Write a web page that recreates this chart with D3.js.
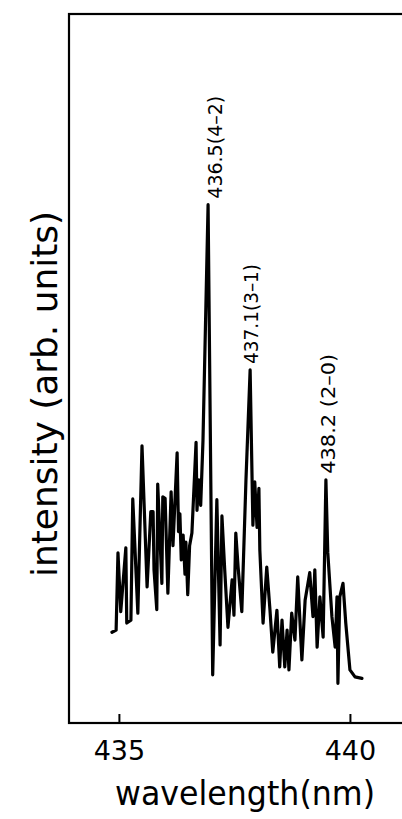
<!DOCTYPE html>
<html>
<head>
<meta charset="utf-8">
<script src="https://cdn.jsdelivr.net/npm/d3@7"></script>
<style>
  body { margin: 0; background: #fff; }
  svg { display: block; font-family: "DejaVu Sans", sans-serif; }
</style>
</head>
<body>
<svg id="chart"></svg>
<script>
// spectrum: wavelength (nm) and intensity (arb. units, 0-100)
var wavelength = [434.85, 434.94, 434.98, 435.04, 435.15, 435.17, 435.26, 435.30, 435.41, 435.50,
  435.61, 435.69, 435.74, 435.76, 435.82, 435.84, 435.93, 435.95, 436.00, 436.06,
  436.13, 436.17, 436.26, 436.29, 436.32, 436.35, 436.39, 436.43, 436.45, 436.49, 436.53, 436.58,
  436.67, 436.69, 436.73, 436.77, 436.82, 436.93, 437.03, 437.12, 437.19, 437.23,
  437.29, 437.36, 437.45, 437.49, 437.53, 437.58, 437.66, 437.75, 437.84, 437.90,
  437.94, 437.99, 438.03, 438.05, 438.12, 438.20, 438.27, 438.33, 438.42, 438.48,
  438.53, 438.59, 438.64, 438.68, 438.74, 438.81, 438.87, 438.96, 439.03, 439.13,
  439.20, 439.24, 439.29, 439.35, 439.42, 439.48, 439.52, 439.61, 439.68, 439.72,
  439.74, 439.78, 439.85, 439.91, 440.00, 440.11, 440.26];
var intensity = [12.8, 13.1, 24.0, 15.7, 24.7, 14.1, 14.5, 31.6, 15.5, 39.1,
  19.2, 29.8, 29.8, 21.6, 16.0, 33.7, 19.7, 31.9, 31.7, 18.3,
  32.6, 25.0, 38.1, 27.0, 29.5, 23.0, 26.5, 21.0, 25.5, 18.1, 25.0, 26.8,
  39.6, 30.0, 34.3, 30.7, 39.9, 73.1, 6.8, 31.5, 11.0, 29.2,
  21.6, 13.5, 20.2, 15.2, 26.8, 22.0, 15.7, 34.3, 49.8, 27.9,
  34.0, 27.6, 33.1, 24.4, 14.1, 22.0, 15.9, 10.0, 15.9, 7.9,
  14.5, 7.9, 13.1, 7.5, 15.5, 11.7, 20.6, 8.9, 17.3, 21.2,
  15.0, 21.6, 10.7, 17.8, 12.1, 34.3, 24.1, 15.0, 10.7, 17.8,
  5.6, 17.8, 19.7, 14.1, 7.5, 6.5, 6.3];

var xTicks = [435, 440];
var peakLabels = ["436.5(4\u20132)", "437.1(3\u20131)", "438.2 (2\u20130)"];
var peakWl = [436.93, 437.84, 439.48];
var peakInt = [73.1, 49.8, 34.3];

var data = wavelength.map(function(w, i) { return { w: w, v: intensity[i] }; });

var svgWidth = 402, svgHeight = 819;
var margin = { top: 14, right: -8, bottom: 96, left: 69 };
var width = svgWidth - margin.left - margin.right;
var height = svgHeight - margin.top - margin.bottom;

var svg = d3.select('#chart')
  .attr("width", svgWidth)
  .attr("height", svgHeight);

var g = svg.append("g")
  .attr("transform", "translate(" + margin.left + "," + margin.top + ")");

var x = d3.scaleLinear().domain([433.92, 441.3]).range([0, width]);
var y = d3.scaleLinear().domain([0, 100]).range([height, 0]);

// frame
g.append("rect")
  .attr("width", width)
  .attr("height", height)
  .attr("fill", "none")
  .attr("stroke", "#000")
  .attr("stroke-width", 2.2);

var xAxis = g.append("g")
  .attr("transform", "translate(0," + height + ")")
  .call(d3.axisBottom(x).tickValues(xTicks).tickSizeInner(-9).tickSizeOuter(0).tickPadding(18)
    .tickFormat(d3.format("d")));
xAxis.select(".domain").remove();
xAxis.selectAll("line").attr("stroke-width", 2);
xAxis.selectAll("text")
  .attr("font-size", 27)
  .attr("font-family", "DejaVu Sans")
  .attr("fill", "#000");

svg.append("text")
  .attr("x", 245)
  .attr("y", 805)
  .attr("text-anchor", "middle")
  .attr("font-size", 34)
  .attr("textLength", 260)
  .attr("lengthAdjust", "spacingAndGlyphs")
  .text("wavelength(nm)");

svg.append("text")
  .attr("transform", "translate(57,394) rotate(-90)")
  .attr("text-anchor", "middle")
  .attr("font-size", 35)
  .attr("textLength", 366)
  .attr("lengthAdjust", "spacingAndGlyphs")
  .text("intensity (arb. units)");

var line = d3.line()
  .x(function(d) { return x(d.w); })
  .y(function(d) { return y(d.v); });

g.append("path")
  .datum(data)
  .attr("fill", "none")
  .attr("stroke", "#000")
  .attr("stroke-width", 3.2)
  .attr("stroke-linejoin", "round")
  .attr("stroke-linecap", "round")
  .attr("d", line);

// peak labels, rotated
var labelDx = [14, 8, 9];
var labelLen = [103, 100, 120];
g.selectAll(".peak")
  .data(peakLabels)
  .enter().append("text")
  .attr("class", "peak")
  .attr("transform", function(d, i) {
    return "translate(" + (x(peakWl[i]) + labelDx[i]) + "," + (y(peakInt[i]) - 6) + ") rotate(-90)";
  })
  .attr("font-size", 19)
  .attr("textLength", function(d, i) { return labelLen[i]; })
  .attr("lengthAdjust", "spacingAndGlyphs")
  .text(function(d) { return d; });
</script>
</body>
</html>
